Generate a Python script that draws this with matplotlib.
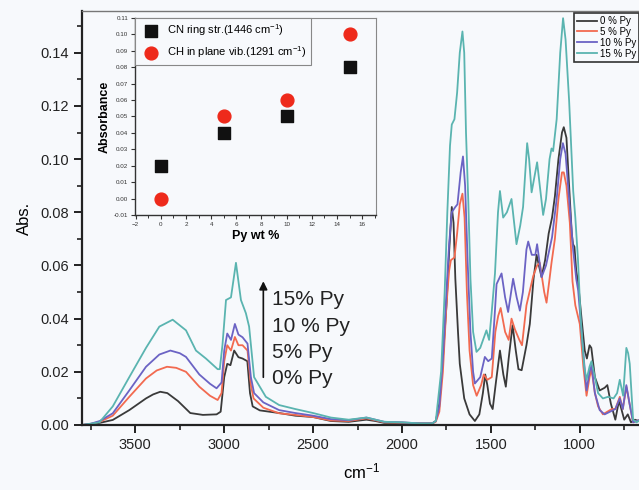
import numpy as np
import matplotlib
matplotlib.use('Agg')
import matplotlib.pyplot as plt
from matplotlib.ticker import MultipleLocator, FixedLocator

plt.rcParams['font.family'] = ['Liberation Sans', 'DejaVu Sans']
plt.rcParams['mathtext.default'] = 'regular'

# ---------------- FTIR spectra (wavenumber / absorbance) ----------------
wn_0 = [3800, 3750, 3700, 3627, 3534, 3440, 3400, 3360, 3320, 3260, 3191, 3120, 3043, 3020, 3000,
        2983, 2965, 2944, 2920, 2897, 2870, 2855, 2840, 2800, 2691, 2600, 2500, 2400, 2300, 2200,
        2150, 2100, 2000, 1900, 1830, 1810, 1790, 1770, 1750, 1735, 1720, 1710, 1700, 1685, 1675,
        1650, 1620, 1590, 1565, 1545, 1532, 1520, 1505, 1490, 1470, 1449, 1430, 1416, 1400, 1378,
        1360, 1345, 1327, 1300, 1281, 1260, 1243, 1230, 1215, 1195, 1175, 1156, 1140, 1120, 1100,
        1090, 1075, 1060, 1045, 1038, 1030, 1020, 1010, 990, 972, 960, 945, 935, 915, 888,
        860, 845, 825, 800, 780, 770, 750, 730, 712, 690, 650]
abs_0 = [0.0, 0.0003, 0.0008, 0.0019, 0.0056, 0.0100, 0.0115, 0.0125, 0.0120, 0.0090, 0.0045, 0.0038, 0.0040, 0.0050, 0.0180,
         0.0230, 0.0225, 0.0280, 0.0255, 0.0250, 0.0240, 0.0120, 0.0070, 0.0055, 0.0045, 0.0035, 0.0030, 0.0015, 0.0012, 0.0020,
         0.0015, 0.0008, 0.0008, 0.0006, 0.0006, 0.0015, 0.008, 0.025, 0.045, 0.065, 0.082, 0.076, 0.055, 0.035, 0.023,
         0.010, 0.004, 0.0015, 0.004, 0.012, 0.019, 0.015, 0.008, 0.006, 0.017, 0.028, 0.019, 0.0144, 0.025, 0.0375,
         0.028, 0.021, 0.0206, 0.030, 0.038, 0.055, 0.064, 0.060, 0.0556, 0.062, 0.072, 0.078, 0.086, 0.100, 0.110,
         0.112, 0.108, 0.090, 0.072, 0.068, 0.067, 0.058, 0.054, 0.040, 0.028, 0.025, 0.030, 0.029, 0.018, 0.013,
         0.014, 0.015, 0.008, 0.002, 0.009, 0.007, 0.002, 0.004, 0.001, 0.002, 0.001]

wn_5 = [3800, 3750, 3700, 3627, 3534, 3440, 3380, 3322, 3270, 3215, 3140, 3080, 3037, 3015, 3000,
        2983, 2962, 2940, 2920, 2897, 2869, 2850, 2835, 2780, 2691, 2600, 2500, 2400, 2300, 2200,
        2150, 2100, 2000, 1900, 1830, 1810, 1790, 1770, 1750, 1735, 1725, 1705, 1690, 1675, 1660,
        1648, 1635, 1620, 1600, 1580, 1555, 1540, 1520, 1495, 1475, 1459, 1445, 1420, 1400, 1384,
        1365, 1340, 1325, 1300, 1262, 1240, 1225, 1200, 1187, 1170, 1159, 1140, 1120, 1100, 1090,
        1075, 1056, 1041, 1025, 1000, 980, 962, 945, 934, 915, 897, 870, 845, 820, 800,
        775, 758, 738, 720, 700, 660]
abs_5 = [0.0, 0.0004, 0.0012, 0.0035, 0.0106, 0.0175, 0.0205, 0.0219, 0.0215, 0.0200, 0.0144, 0.0110, 0.0094, 0.0120, 0.0240,
         0.0300, 0.0280, 0.0331, 0.0300, 0.0300, 0.0280, 0.0150, 0.0100, 0.0065, 0.0044, 0.0038, 0.0030, 0.0017, 0.0015, 0.0025,
         0.0018, 0.0010, 0.0009, 0.0006, 0.0006, 0.0012, 0.005, 0.020, 0.045, 0.058, 0.062, 0.063, 0.072, 0.083, 0.087,
         0.078, 0.050, 0.028, 0.015, 0.011, 0.015, 0.019, 0.017, 0.018, 0.035, 0.041, 0.044, 0.035, 0.032, 0.040,
         0.036, 0.032, 0.030, 0.045, 0.056, 0.060, 0.061, 0.050, 0.046, 0.055, 0.061, 0.070, 0.085, 0.095, 0.095,
         0.090, 0.076, 0.054, 0.045, 0.038, 0.022, 0.011, 0.018, 0.021, 0.012, 0.007, 0.004, 0.005, 0.006, 0.006,
         0.0106, 0.006, 0.0144, 0.008, 0.001, 0.002]

wn_10 = [3800, 3750, 3700, 3627, 3534, 3440, 3365, 3303, 3250, 3215, 3140, 3080, 3043, 3015, 3000,
         2983, 2962, 2940, 2920, 2897, 2869, 2850, 2832, 2780, 2691, 2600, 2500, 2400, 2300, 2200,
         2150, 2100, 2000, 1900, 1830, 1810, 1790, 1770, 1750, 1735, 1720, 1700, 1688, 1670, 1657,
         1645, 1630, 1615, 1600, 1590, 1560, 1534, 1515, 1495, 1480, 1468, 1440, 1420, 1403, 1375,
         1355, 1337, 1320, 1300, 1290, 1270, 1250, 1240, 1215, 1190, 1156, 1130, 1110, 1095, 1080,
         1060, 1037, 1020, 1009, 990, 962, 945, 934, 915, 888, 860, 830, 800, 775, 758,
         738, 720, 700, 660]
abs_10 = [0.0, 0.0005, 0.0015, 0.0044, 0.0130, 0.0219, 0.0265, 0.0280, 0.0270, 0.0256, 0.0190, 0.0155, 0.0138, 0.0160, 0.0280,
          0.0344, 0.0320, 0.0380, 0.0340, 0.0330, 0.0306, 0.0180, 0.0120, 0.0085, 0.0056, 0.0045, 0.0035, 0.0022, 0.0018, 0.0028,
          0.0020, 0.0012, 0.0010, 0.0006, 0.0006, 0.0015, 0.007, 0.025, 0.050, 0.068, 0.080, 0.082, 0.083, 0.095, 0.101,
          0.090, 0.060, 0.035, 0.020, 0.0156, 0.018, 0.0256, 0.024, 0.025, 0.040, 0.053, 0.057, 0.048, 0.0425, 0.055,
          0.048, 0.043, 0.050, 0.066, 0.069, 0.064, 0.064, 0.068, 0.0556, 0.060, 0.0706, 0.085, 0.100, 0.106, 0.102,
          0.085, 0.0656, 0.055, 0.0506, 0.035, 0.013, 0.020, 0.0225, 0.012, 0.0056, 0.004, 0.005, 0.006, 0.010, 0.006,
          0.015, 0.008, 0.001, 0.002]

wn_15 = [3800, 3750, 3702, 3627, 3534, 3440, 3365, 3290, 3215, 3159, 3103, 3037, 3025, 3010, 2990,
         2962, 2934, 2906, 2878, 2860, 2832, 2766, 2691, 2600, 2500, 2400, 2300, 2200, 2150, 2100,
         2000, 1900, 1830, 1810, 1780, 1760, 1745, 1730, 1720, 1705, 1690, 1675, 1660, 1650, 1640,
         1627, 1615, 1600, 1581, 1560, 1525, 1510, 1496, 1477, 1460, 1449, 1431, 1410, 1384, 1356,
         1335, 1319, 1296, 1285, 1271, 1240, 1225, 1206, 1190, 1170, 1159, 1150, 1130, 1110, 1094,
         1080, 1060, 1037, 1025, 1010, 995, 975, 962, 945, 934, 915, 897, 870, 841, 810,
         790, 775, 756, 738, 728, 719, 700, 680, 660]
abs_15 = [0.0, 0.0005, 0.0010, 0.0070, 0.0180, 0.0290, 0.0370, 0.0396, 0.0356, 0.0280, 0.0250, 0.0210, 0.0210, 0.0300, 0.0470,
          0.0480, 0.0610, 0.0470, 0.0420, 0.0370, 0.0180, 0.0106, 0.0075, 0.0060, 0.0045, 0.0028, 0.0020, 0.0028, 0.0020, 0.0012,
          0.0010, 0.0006, 0.0006, 0.0015, 0.020, 0.050, 0.080, 0.105, 0.113, 0.115, 0.125, 0.140, 0.148, 0.140, 0.110,
          0.084, 0.055, 0.035, 0.0275, 0.029, 0.0356, 0.032, 0.042, 0.057, 0.080, 0.088, 0.078, 0.080, 0.085, 0.068,
          0.075, 0.082, 0.106, 0.100, 0.0875, 0.0988, 0.090, 0.079, 0.085, 0.100, 0.104, 0.103, 0.115, 0.140, 0.153,
          0.145, 0.122, 0.088, 0.078, 0.062, 0.040, 0.022, 0.017, 0.022, 0.024, 0.018, 0.012, 0.010, 0.0106, 0.010,
          0.012, 0.017, 0.011, 0.029, 0.027, 0.023, 0.002, 0.001, 0.002]

series_labels = ['0 % Py', '5 % Py', '10 % Py', '15 % Py']
arrow_labels = ['15% Py', '10 % Py', '5% Py', '0% Py']

# ---------------- inset: band absorbance vs pyrrole content ----------------
py_wt = [0, 5, 10, 15]
cn_ring = [0.02, 0.04, 0.05, 0.08]
ch_plane = [0.00, 0.05, 0.06, 0.10]

bg = '#f7f9fc'
colors = ['#3a3a3a', '#f26a50', '#6b63c4', '#5ab4b0']

fig = plt.figure(figsize=(6.39, 4.90), dpi=100, facecolor=bg)
ax = fig.add_axes([82 / 639, 1 - 425 / 490, 560 / 639, 414 / 490])
ax.set_facecolor(bg)

spectra = [(wn_0, abs_0), (wn_5, abs_5), (wn_10, abs_10), (wn_15, abs_15)]
for (wn, ab), c, lab in zip(spectra, colors, series_labels):
    ax.plot(wn, ab, color=c, lw=1.3, label=lab)

ax.set_xlim(3800, 650)
ax.set_ylim(0, 0.1557)
ax.xaxis.set_major_locator(FixedLocator([3500, 3000, 2500, 2000, 1500, 1000]))
ax.xaxis.set_minor_locator(MultipleLocator(250))
ax.yaxis.set_major_locator(MultipleLocator(0.02))
ax.yaxis.set_minor_locator(MultipleLocator(0.01))
ax.yaxis.set_major_formatter(plt.FormatStrFormatter('%.2f'))
ax.tick_params(which='major', direction='out', length=6, width=1.4, labelsize=10.5, colors='#222222')
ax.tick_params(which='minor', direction='out', length=3.5, width=1.2, colors='#222222')
for side in ['left', 'bottom']:
    ax.spines[side].set_linewidth(1.6)
    ax.spines[side].set_color('#222222')
ax.spines['top'].set_color('#777777')
ax.spines['top'].set_linewidth(1.0)
ax.spines['right'].set_visible(False)

ax.set_ylabel('Abs.', fontsize=12, labelpad=6)
ax.set_xlabel('cm$^{-1}$', fontsize=12, labelpad=7)

# arrow showing increasing pyrrole content
ax.annotate('', xy=(2780, 0.0551), xytext=(2780, 0.0169),
            arrowprops=dict(arrowstyle='-|>', color='#111111', lw=1.2, mutation_scale=12))
for lab, yv in zip(arrow_labels, [0.0473, 0.0372, 0.0274, 0.0176]):
    ax.text(2730, yv, lab, fontsize=15, va='center', ha='left', color='#222222')

# series legend in the top right corner
leg = fig.legend(loc='upper left', bbox_to_anchor=(574 / 639, 1 - 13 / 490), fontsize=7,
                 handlelength=2.1, handletextpad=0.3, labelspacing=0.1, borderpad=0.3,
                 borderaxespad=0, fancybox=False, framealpha=1, facecolor=bg, edgecolor='#333333')
leg.get_frame().set_linewidth(1.2)

# ---------------- inset ----------------
ins = fig.add_axes([135 / 639, 1 - 215 / 490, 241 / 639, 197 / 490])
ins.set_facecolor(bg)
ins.scatter(py_wt, cn_ring, marker='s', s=70, color='#111111', label='CN ring str.(1446 cm$^{-1}$)', zorder=3)
ins.scatter(py_wt, ch_plane, marker='o', s=85, color='#ee2a1b', label='CH in plane vib.(1291 cm$^{-1}$)', zorder=3)
ins.set_xlim(-2.05, 17.1)
ins.set_ylim(-0.01, 0.11)
ins.xaxis.set_major_locator(FixedLocator(list(range(-2, 17, 2))))
ins.xaxis.set_minor_locator(MultipleLocator(1))
ins.yaxis.set_major_locator(MultipleLocator(0.01))
ins.yaxis.set_major_formatter(plt.FormatStrFormatter('%.2f'))
ins.tick_params(which='major', direction='out', length=3, width=0.8, labelsize=4.5, pad=2, colors='#333333')
ins.tick_params(which='minor', direction='out', length=1.8, width=0.7, colors='#333333')
for side in ['left', 'bottom']:
    ins.spines[side].set_linewidth(1.0)
    ins.spines[side].set_color('#333333')
for side in ['top', 'right']:
    ins.spines[side].set_linewidth(0.8)
    ins.spines[side].set_color('#888888')
ins.set_xlabel('Py wt %', fontsize=9, fontweight='bold', labelpad=2)
ins.set_ylabel('Absorbance', fontsize=9, fontweight='bold', labelpad=2)
ileg = ins.legend(loc='upper left', bbox_to_anchor=(0, 1), borderaxespad=0, fontsize=8,
                  handletextpad=0.5, labelspacing=0.55, borderpad=0.4, fancybox=False,
                  framealpha=1, facecolor=bg, edgecolor='#888888')
ileg.get_frame().set_linewidth(0.8)

fig.savefig('out.png', dpi=100, facecolor=bg)
